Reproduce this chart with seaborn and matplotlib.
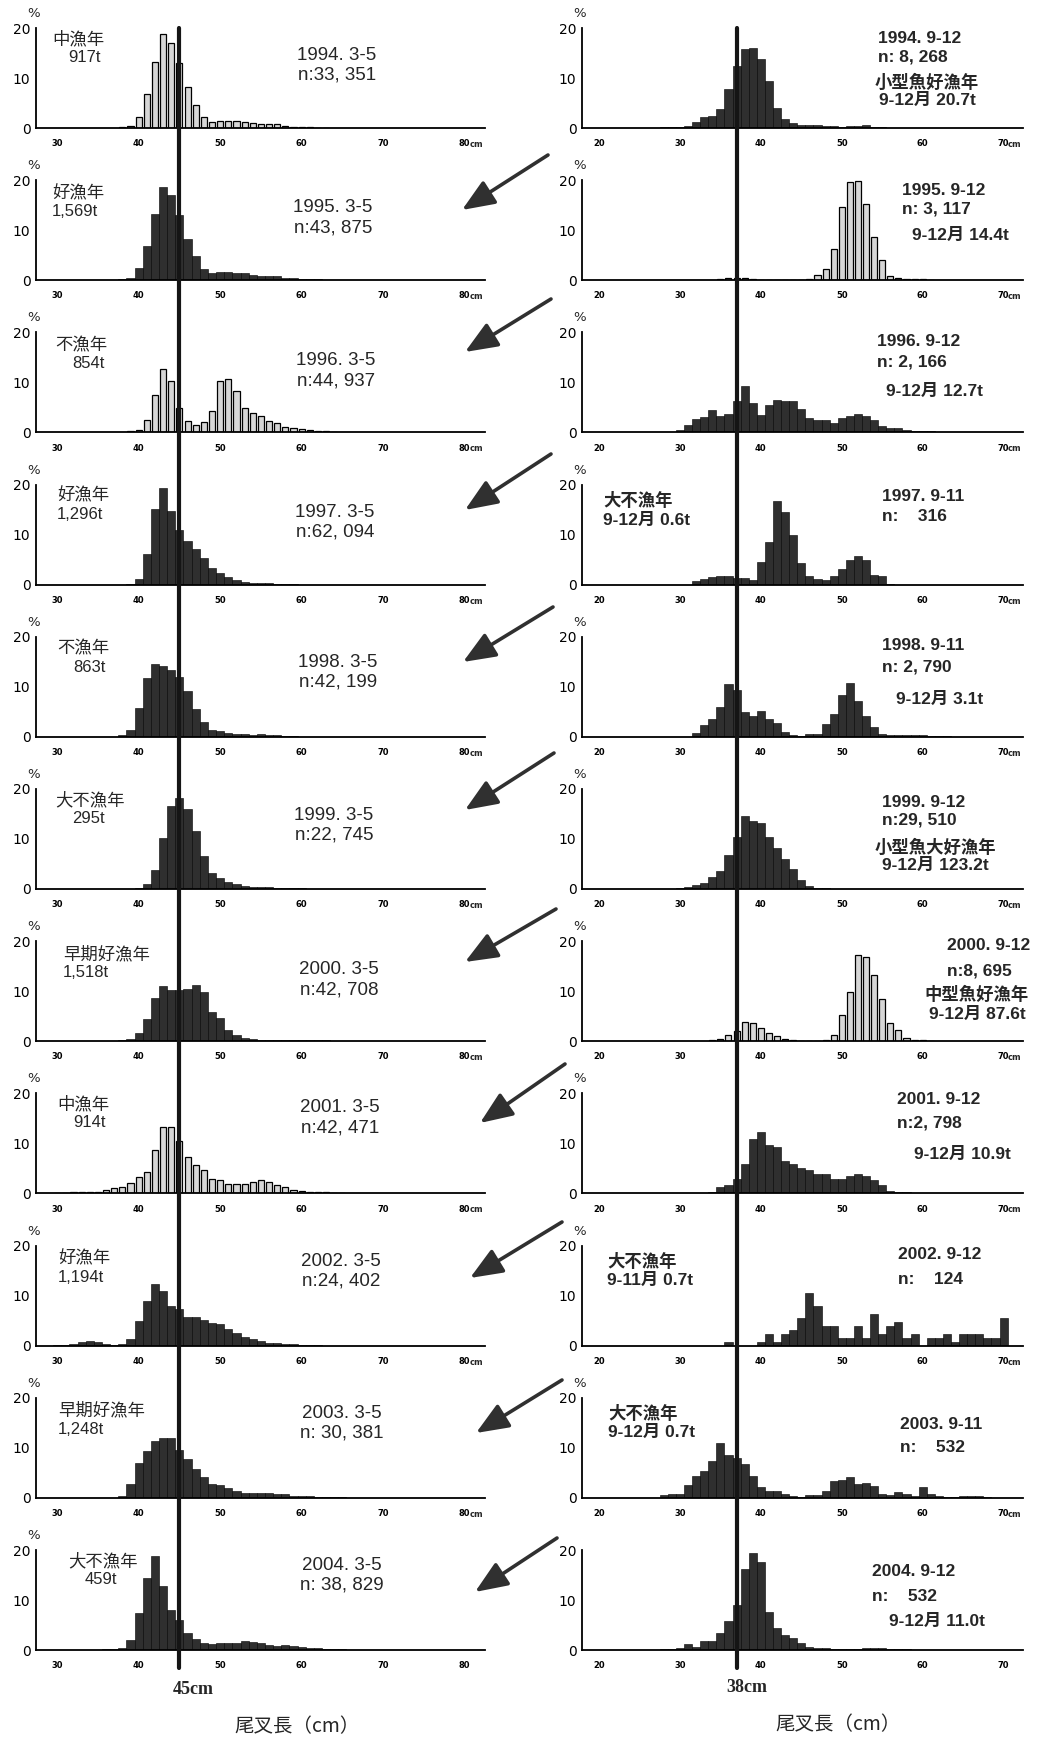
import numpy as np
import pandas as pd
import matplotlib
matplotlib.use("Agg")
import matplotlib.pyplot as plt
from matplotlib.patches import FancyArrowPatch
from matplotlib.lines import Line2D
from matplotlib.transforms import blended_transform_factory
import seaborn as sns

# ---------------- data (percent per 1 cm fork-length class) ----------------
LEFT_START = 30   # first length class (cm) of the spring (3-5) lists
RIGHT_START = 20  # first length class (cm) of the autumn (9-12) lists

L1994 = [0, 0, 0, 0, 0, 0, 0, 0, 0.2, 0.5,
         2.3, 6.8, 13.2, 18.8, 17.1, 13.0, 8.3, 4.7, 2.2, 1.3,
         1.5, 1.5, 1.5, 1.3, 1.0, 0.9, 0.9, 0.8, 0.5, 0.3,
         0.2, 0.15, 0.1, 0.1]
L1995 = [0, 0, 0, 0, 0, 0, 0, 0, 0.2, 0.5,
         2.5, 6.8, 13.2, 18.6, 17.0, 13.0, 8.3, 4.8, 2.2, 1.5,
         1.6, 1.6, 1.5, 1.4, 1.0, 0.9, 0.8, 0.8, 0.5, 0.4,
         0.3, 0.2, 0.2, 0.1, 0.1, 0.1]
L1996 = [0, 0, 0, 0, 0, 0, 0, 0, 0, 0.2,
         0.5, 2.4, 7.5, 12.6, 10.3, 4.9, 2.3, 1.5, 2.1, 4.3,
         10.2, 10.7, 8.2, 4.9, 3.9, 3.2, 2.3, 1.8, 1.1, 0.8,
         0.6, 0.4, 0.3, 0.2, 0.1]
L1997 = [0, 0, 0, 0, 0, 0, 0, 0, 0, 0.2,
         1.1, 6.1, 15.2, 19.3, 14.7, 10.9, 8.8, 7.2, 5.3, 3.3,
         2.4, 1.6, 0.9, 0.6, 0.4, 0.3, 0.3, 0.2, 0.2, 0.1]
L1998 = [0, 0, 0, 0, 0, 0, 0, 0, 0.3, 1.3,
         5.7, 11.7, 14.5, 14.1, 13.4, 12.0, 9.1, 5.5, 2.9, 1.3,
         1.1, 0.8, 0.6, 0.5, 0.4, 0.5, 0.4, 0.3, 0.2, 0.1]
L1999 = [0, 0, 0, 0, 0, 0, 0, 0, 0, 0,
         0.2, 1.0, 3.9, 10.3, 16.6, 18.2, 16.1, 11.6, 6.7, 3.3,
         2.3, 1.5, 1.0, 0.7, 0.5, 0.4, 0.4, 0.3, 0.3, 0.2,
         0.2, 0.1]
L2000 = [0, 0, 0, 0, 0, 0, 0, 0, 0.3, 0.5,
         1.6, 4.4, 8.7, 11.0, 10.2, 10.2, 10.5, 11.3, 9.8, 5.8,
         4.6, 2.3, 1.3, 0.6, 0.4, 0.3, 0.2, 0.2, 0.2, 0.2,
         0.3, 0.3, 0.3, 0.2, 0.1]
L2001 = [0.1, 0.1, 0.2, 0.3, 0.3, 0.3, 0.6, 1.0, 1.3, 2.0,
         3.2, 4.2, 8.7, 13.3, 13.3, 10.4, 7.3, 5.7, 4.6, 2.8,
         2.7, 1.8, 1.8, 1.8, 2.2, 2.7, 2.2, 1.7, 1.2, 0.7,
         0.5, 0.3, 0.2, 0.2, 0.1, 0.1]
L2002 = [0.1, 0.1, 0.3, 0.7, 1.0, 0.8, 0.4, 0.2, 0.3, 1.3,
         5.0, 8.9, 12.3, 11.0, 7.9, 7.3, 5.8, 5.7, 5.2, 4.5,
         4.3, 3.3, 2.5, 1.8, 1.3, 0.9, 0.6, 0.5, 0.4, 0.3,
         0.2, 0.1, 0.1]
L2003 = [0, 0, 0, 0, 0, 0, 0, 0, 0.3, 2.7,
         6.9, 9.4, 11.4, 12.0, 12.0, 9.6, 7.7, 5.7, 4.2, 2.7,
         2.5, 1.9, 1.3, 0.9, 0.9, 0.9, 0.9, 0.7, 0.7, 0.4,
         0.3, 0.3, 0.2, 0.2, 0.1, 0.1]
L2004 = [0, 0, 0, 0, 0, 0, 0.2, 0.3, 0.5, 2.1,
         7.5, 14.5, 18.8, 12.8, 8.0, 6.0, 3.5, 2.3, 1.5, 1.2,
         1.5, 1.5, 1.5, 1.8, 1.7, 1.5, 1.0, 0.9, 1.0, 0.9,
         0.6, 0.5, 0.4, 0.3, 0.2, 0.2, 0.1, 0.1]

R1994 = [0, 0, 0, 0, 0, 0, 0, 0, 0.2, 0.3,
         0.3, 0.5, 1.3, 2.2, 2.5, 3.9, 7.9, 12.5, 15.9, 16.0,
         13.9, 9.4, 4.1, 1.9, 1.0, 0.6, 0.7, 0.6, 0.5, 0.4,
         0.3, 0.4, 0.5, 0.6, 0.3, 0.2, 0.1]
R1995 = [0, 0, 0, 0, 0, 0, 0, 0, 0, 0,
         0, 0, 0, 0, 0, 0.3, 0.5, 0.5, 0.5, 0.2,
         0.1, 0.1, 0.1, 0.1, 0.1, 0.1, 0.3, 1.0, 2.2, 6.3,
         14.6, 19.6, 19.9, 15.2, 8.6, 4.0, 0.9, 0.5, 0.3, 0.2,
         0.2, 0.1]
R1996 = [0, 0, 0, 0, 0, 0, 0, 0, 0, 0,
         0.4, 1.4, 2.7, 3.1, 4.4, 3.2, 3.7, 6.3, 9.2, 5.8,
         3.5, 5.4, 6.5, 6.3, 6.2, 4.7, 2.9, 2.5, 2.5, 1.9,
         2.9, 3.2, 3.7, 3.2, 2.4, 1.2, 0.9, 0.9, 0.5, 0.3,
         0.3, 0.2, 0.1]
R1997 = [0, 0, 0, 0, 0, 0, 0, 0, 0, 0,
         0, 0, 0.8, 1.2, 1.5, 1.7, 1.7, 1.4, 1.4, 1.0,
         4.6, 8.6, 16.8, 14.6, 10.0, 4.4, 1.7, 1.2, 1.0, 1.7,
         3.2, 5.0, 5.7, 5.0, 1.9, 1.7, 0.2]
R1998 = [0, 0, 0, 0, 0, 0, 0, 0, 0, 0,
         0, 0, 0.7, 2.4, 3.6, 6.0, 10.6, 9.3, 4.9, 4.1,
         5.1, 3.6, 2.7, 1.0, 0.3, 0.2, 0.5, 0.6, 2.5, 4.5,
         8.3, 10.8, 7.1, 4.2, 2.0, 0.6, 0.4, 0.3, 0.3, 0.3,
         0.3, 0.2, 0.1, 0.1]
R1999 = [0, 0, 0, 0, 0, 0, 0, 0, 0, 0,
         0.2, 0.5, 0.9, 1.3, 2.5, 3.6, 6.9, 10.4, 14.6, 13.6,
         13.2, 10.5, 8.2, 6.0, 4.1, 1.8, 0.7, 0.3, 0.2, 0.1,
         0.1]
R2000 = [0, 0, 0, 0, 0, 0, 0, 0, 0, 0,
         0, 0, 0, 0, 0.2, 0.5, 1.2, 2.1, 3.8, 3.6,
         2.7, 1.6, 1.0, 0.4, 0.2, 0.1, 0.1, 0.1, 0.3, 1.2,
         5.2, 9.8, 17.2, 16.9, 13.2, 8.4, 3.6, 2.3, 0.6, 0.3,
         0.2, 0.1]
R2001 = [0, 0, 0, 0, 0, 0, 0, 0, 0, 0,
         0.1, 0.1, 0.1, 0.1, 0.2, 1.3, 1.6, 2.8, 5.9, 10.8,
         12.2, 9.7, 9.2, 6.5, 5.9, 5.1, 4.7, 3.8, 3.8, 2.9,
         2.8, 3.4, 3.8, 3.4, 2.6, 1.6, 0.5, 0.3, 0.2, 0.1]
R2002 = [0, 0, 0, 0, 0, 0, 0, 0, 0, 0,
         0, 0, 0, 0, 0, 0, 0.8, 0, 0, 0,
         0.8, 2.3, 0.8, 2.3, 3.1, 5.6, 10.5, 7.9, 3.9, 3.9,
         1.5, 1.5, 3.9, 1.5, 6.3, 2.4, 3.9, 4.7, 1.5, 2.4,
         0, 1.5, 1.5, 2.3, 0.8, 2.3, 2.3, 2.3, 1.5, 1.5,
         5.6]
R2003 = [0, 0, 0, 0, 0, 0, 0, 0, 0.5, 0.8,
         0.8, 2.6, 4.4, 5.3, 7.4, 11.0, 8.6, 8.0, 6.7, 4.4,
         2.1, 1.4, 1.4, 0.8, 0.4, 0.2, 0.6, 0.6, 1.3, 3.4,
         3.6, 4.1, 2.8, 2.9, 2.4, 0.7, 0.5, 1.1, 0.8, 0.3,
         2.1, 0.8, 0.3, 0.2, 0.1, 0.3, 0.3, 0.3, 0.2]
R2004 = [0, 0, 0, 0, 0, 0, 0, 0, 0.2, 0.3,
         0.5, 1.3, 0.7, 1.8, 1.9, 3.5, 5.8, 9.0, 16.3, 19.4,
         17.6, 7.6, 4.5, 3.1, 2.4, 1.4, 0.6, 0.5, 0.4, 0.3,
         0.3, 0.3, 0.3, 0.5, 0.5, 0.4, 0.3, 0.2, 0.2, 0.1]

LEFT_SERIES = [L1994, L1995, L1996, L1997, L1998, L1999, L2000, L2001, L2002, L2003, L2004]
RIGHT_SERIES = [R1994, R1995, R1996, R1997, R1998, R1999, R2000, R2001, R2002, R2003, R2004]
LEFT_LIGHT = [True, False, True, False, False, False, False, True, False, False, False]
RIGHT_LIGHT = [False, True, False, False, False, False, True, False, False, False, False]

LEFT_MARK_CM = 45
RIGHT_MARK_CM = 37
LEFT_TICKS = [30, 40, 50, 60, 70, 80]
RIGHT_TICKS = [20, 30, 40, 50, 60, 70]
Y_TICKS = [0, 5, 10, 15, 20]
Y_TICKLABELS = ["0", "", "10", "", "20"]

LEFT_CAT1 = ["中漁年", "好漁年", "不漁年", "好漁年", "不漁年", "大不漁年", "早期好漁年",
             "中漁年", "好漁年", "早期好漁年", "大不漁年"]
LEFT_CAT2 = ["917t", "1,569t", "854t", "1,296t", "863t", "295t", "1,518t",
             "914t", "1,194t", "1,248t", "459t"]
LEFT_PERIOD = ["1994. 3-5", "1995. 3-5", "1996. 3-5", "1997. 3-5", "1998. 3-5", "1999. 3-5",
               "2000. 3-5", "2001. 3-5", "2002. 3-5", "2003. 3-5", "2004. 3-5"]
LEFT_N = ["n:33, 351", "n:43, 875", "n:44, 937", "n:62, 094", "n:42, 199", "n:22, 745",
          "n:42, 708", "n:42, 471", "n:24, 402", "n: 30, 381", "n: 38, 829"]
RIGHT_PERIOD = ["1994. 9-12", "1995. 9-12", "1996. 9-12", "1997. 9-11", "1998. 9-11", "1999. 9-12",
                "2000. 9-12", "2001. 9-12", "2002. 9-12", "2003. 9-11", "2004. 9-12"]
RIGHT_N = ["n: 8, 268", "n: 3, 117", "n: 2, 166", "n:    316", "n: 2, 790", "n:29, 510",
           "n:8, 695", "n:2, 798", "n:    124", "n:    532", "n:    532"]
RIGHT_NOTE = [["小型魚好漁年", "9-12月 20.7t"], ["9-12月 14.4t"], ["9-12月 12.7t"], [],
              ["9-12月 3.1t"], ["小型魚大好漁年", "9-12月 123.2t"], ["中型魚好漁年", "9-12月 87.6t"],
              ["9-12月 10.9t"], [], [], ["9-12月 11.0t"]]
RIGHT_SIDE = [[], [], [], ["大不漁年", "9-12月 0.6t"], [], [], [], [],
              ["大不漁年", "9-11月 0.7t"], ["大不漁年", "9-12月 0.7t"], []]

# ---------------- layout (pixels of the 1047 x 1737 canvas) ----------------
W, H = 1047, 1737
ROW_TOP0, ROW_PITCH, AX_H = 28, 152.2, 100
LX0, LW = 36, 449
RX0, RW = 582, 441
LEFT_XLIM = (27.4, 82.5)
RIGHT_XLIM = (17.9, 72.4)

LD_X = [337, 333, 336, 335, 338, 334, 339, 340, 341, 342, 342]
LD_OFF = [19, 19, 20, 19, 17, 18, 20, 6, 7, 7, 7]
LC1_X = [52, 52, 55, 57, 57, 55, 63, 57, 58, 58, 68]
LC2_X = [68, 52, 72, 57, 73, 72, 63, 73, 58, 58, 85]
LC_OFF = [2, 4, 4, 2, 3, 2, 4, 2, 4, 4, 2]
RA_X = [878, 902, 877, 882, 882, 882, 947, 897, 898, 900, 872]
RA_OFF = [3, 3, 2, 4, 1, 6, -3, -1, 1, 19, 14]
RA_PITCH = [18, 18, 20, 20, 22, 18, 25, 23, 25, 23, 25]
RB_X = [927, 960, 935, 0, 940, 935, 977, 962, 0, 0, 937]
RB_OFF = [46, 48, 51, 0, 55, 50, 45, 53, 0, 0, 64]
RB_PITCH = [19, 19, 19, 19, 19, 19, 21, 19, 19, 19, 19]
RS_X = [0, 0, 0, 603, 0, 0, 0, 0, 607, 608, 0]
RS_OFF = [0, 0, 0, 7, 0, 0, 0, 0, 7, 7, 0]
RS_PITCH = [21, 21, 21, 21, 21, 21, 21, 21, 20, 20, 21]
ARROWS = [((548, 155), (462, 210)), ((551, 299), (465, 352)), ((551, 454), (465, 510)),
          ((553, 607), (463, 662)), ((554, 753), (465, 810)), ((556, 909), (465, 962)),
          ((565, 1064), (480, 1123)), ((562, 1222), (470, 1278)), ((562, 1380), (476, 1433)),
          ((557, 1538), (475, 1592))]

# ---------------- fonts ----------------
sns.set_style("white")
CJK = "Noto Sans CJK JP"
plt.rcParams["font.family"] = ["DejaVu Sans", CJK]
NUM_FAM = ["Liberation Sans", CJK]
NUM_SIZE = 13.5
BOLD_SIZE = 12.5

DARK = "#2f2f2f"
LIGHT = "#d6d6d6"

fig = plt.figure(figsize=(W / 100, H / 100), dpi=100)
fig.patch.set_facecolor("white")


def px_rect(x0, top, w, h):
    return [x0 / W, 1 - (top + h) / H, w / W, h / H]


def draw_panel(ax, start, vals, light, xlim, ticks, show_cm, show_pct):
    df = pd.DataFrame({"cm": np.arange(start, start + len(vals)), "pct": vals})
    df = df[df["pct"] > 0]
    sns.histplot(data=df, x="cm", weights="pct", discrete=True,
                 shrink=0.75 if light else 1.0,
                 color=LIGHT if light else DARK, alpha=1,
                 edgecolor="black", linewidth=0.9 if light else 0.4, ax=ax)
    ax.set_xlim(*xlim)
    ax.set_ylim(0, 20)
    ax.set_xlabel("")
    ax.set_ylabel("")
    ax.set_facecolor("none")
    for s in ("top", "right"):
        ax.spines[s].set_visible(False)
    ax.spines["left"].set_bounds(0, 20)
    for s in ("left", "bottom"):
        ax.spines[s].set_linewidth(1.3)
        ax.spines[s].set_color("black")
    ax.set_xticks(ticks)
    ax.set_xticks(np.arange(ticks[0], ticks[-1] + 1), minor=True)
    ax.set_xticklabels([str(t) for t in ticks])
    ax.tick_params(axis="x", which="both", direction="in", length=3, width=1.0,
                   labelsize=6, pad=8, colors="black")
    for lbl in ax.get_xticklabels():
        lbl.set_fontweight("bold")
    ax.set_yticks(Y_TICKS)
    ax.set_yticklabels(Y_TICKLABELS)
    ax.tick_params(axis="y", direction="in", length=5, width=1.0, labelsize=10, pad=4,
                   colors="black")
    if show_cm:
        ax.text(1.0 - 0.035, -0.165, "cm", transform=ax.transAxes, fontsize=6,
                ha="left", va="center", fontweight="bold")
    if show_pct:
        ax.text(-0.02, 1.08, "%", transform=ax.transAxes, fontsize=9.5, ha="left", va="bottom")


def ftxt(xpx, ypx, s, **kw):
    fig.text(xpx / W, 1 - ypx / H, s, va="top", **kw)


left_axes, right_axes = [], []
for k in range(11):
    top = ROW_TOP0 + k * ROW_PITCH
    axl = fig.add_axes(px_rect(LX0, top, LW, AX_H))
    axr = fig.add_axes(px_rect(RX0, top, RW, AX_H))
    last = k == 10
    draw_panel(axl, LEFT_START, LEFT_SERIES[k], LEFT_LIGHT[k], LEFT_XLIM, LEFT_TICKS,
               not last, True)
    draw_panel(axr, RIGHT_START, RIGHT_SERIES[k], RIGHT_LIGHT[k], RIGHT_XLIM, RIGHT_TICKS,
               not last, not last)
    left_axes.append(axl)
    right_axes.append(axr)

    # left panel texts
    ftxt(LC1_X[k], top + LC_OFF[k], LEFT_CAT1[k], family=[CJK], fontsize=12.5)
    ftxt(LC2_X[k], top + LC_OFF[k] + 20, LEFT_CAT2[k], family=["Liberation Sans", CJK],
         fontsize=12)
    ftxt(LD_X[k], top + LD_OFF[k], LEFT_PERIOD[k], family=NUM_FAM, fontsize=NUM_SIZE, ha="center")
    ftxt(LD_X[k], top + LD_OFF[k] + 20, LEFT_N[k], family=NUM_FAM, fontsize=NUM_SIZE, ha="center")
    # right panel texts
    ftxt(RA_X[k], top + RA_OFF[k], RIGHT_PERIOD[k], family=NUM_FAM, fontsize=BOLD_SIZE,
         fontweight="bold", ha="left")
    ftxt(RA_X[k], top + RA_OFF[k] + RA_PITCH[k], RIGHT_N[k], family=NUM_FAM, fontsize=BOLD_SIZE,
         fontweight="bold", ha="left")
    for j, line in enumerate(RIGHT_NOTE[k]):
        ftxt(RB_X[k], top + RB_OFF[k] + j * RB_PITCH[k], line, family=NUM_FAM,
             fontsize=BOLD_SIZE, fontweight="bold", ha="center")
    for j, line in enumerate(RIGHT_SIDE[k]):
        ftxt(RS_X[k], top + RS_OFF[k] + j * RS_PITCH[k], line, family=NUM_FAM,
             fontsize=BOLD_SIZE, fontweight="bold", ha="left")

# reference lines across all rows
for axes_col, xval in ((left_axes, LEFT_MARK_CM), (right_axes, RIGHT_MARK_CM)):
    tr = blended_transform_factory(axes_col[0].transData, fig.transFigure)
    fig.add_artist(Line2D([xval, xval], [1 - 28 / H, 1 - 1668 / H], transform=tr,
                          color="#151515", lw=3.0, zorder=20))

# arrows between columns
for (x1, y1), (x2, y2) in ARROWS:
    fig.add_artist(FancyArrowPatch((x1 / W, 1 - y1 / H), (x2 / W, 1 - y2 / H),
                                   transform=fig.transFigure,
                                   arrowstyle="-|>,head_length=1.1,head_width=0.45",
                                   mutation_scale=18, lw=2.6, color="#303030",
                                   shrinkA=0, shrinkB=0, zorder=20))

# bottom labels
fig.text(193 / W, 1 - 1690 / H, "45cm", family=["Liberation Serif", "DejaVu Serif"],
         fontweight="bold", fontsize=13, ha="center", va="center")
fig.text(747 / W, 1 - 1688 / H, "38cm", family=["Liberation Serif", "DejaVu Serif"],
         fontweight="bold", fontsize=13, ha="center", va="center")
fig.text(297 / W, 1 - 1727 / H, "尾叉長（cm）", family=[CJK], fontsize=14, ha="center",
         va="center")
fig.text(838 / W, 1 - 1725 / H, "尾叉長（cm）", family=[CJK], fontsize=14, ha="center",
         va="center")

fig.savefig("out.png", dpi=100, facecolor="white")
